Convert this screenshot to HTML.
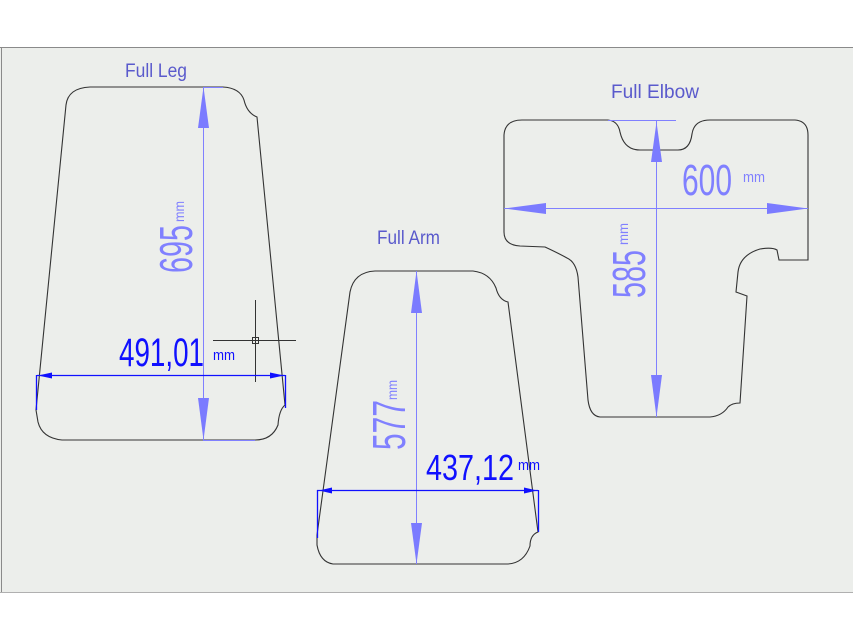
<!DOCTYPE html>
<html><head><meta charset="utf-8"><style>html,body{margin:0;padding:0;background:#fff}svg{display:block}</style></head>
<body>
<svg width="853" height="640" viewBox="0 0 853 640" xmlns="http://www.w3.org/2000/svg" font-family="Liberation Sans, sans-serif">
<rect x="0" y="47" width="853" height="545" fill="#eceeeb"/>
<line x1="0" y1="47.5" x2="853" y2="47.5" stroke="#8a8a8a"/>
<line x1="1.5" y1="47" x2="1.5" y2="592" stroke="#8a8a8a"/>
<line x1="0" y1="592.5" x2="853" y2="592.5" stroke="#b0b0b0"/>

<g fill="none" stroke="#333" stroke-width="1.1">
<path d="M66,105 Q68,88 90,87 L223,87 Q240,88 244,100 Q247,113 257,117 L285,405 Q279,410 278,425 Q272,440 255,440 L62,440 Q42,438 38,422 L36,410 Z"/>
<path d="M350,292 Q354,272 375,271 L473,271 Q490,273 496,288 Q499,300 508,302 L538,532 Q530,535 530,546 Q524,563 508,564 L333,564 Q320,562 317,545 L317,535 Z"/>
<path d="M504,135 Q505,120 522,120 L608,120 Q618,121 620,132 Q624,150 640,150 L678,150 Q690,150 692,134 Q694,120 710,120 L795,120 Q808,121 808,135 L808,260 L779,260 L777,250 Q772,247 760,249 Q740,255 738,272 L736,292 L747,296 L740,403 Q732,403 728,407 Q722,416 710,417 L600,417 Q590,416 588,400 L578,277 Q576,262 567,258 Q558,253 545,247 L520,246 Q504,245 504,232 Z"/>
</g>

<g stroke="#333" stroke-width="1" fill="none">
<line x1="255.5" y1="300" x2="255.5" y2="382"/>
<line x1="213" y1="340.5" x2="296" y2="340.5"/>
<rect x="252.5" y="337.5" width="6" height="6"/>
</g>

<g stroke="#8080ff" stroke-width="1" fill="#7b7bff">
<line x1="203.5" y1="87" x2="203.5" y2="440"/>
<line x1="203" y1="87.5" x2="223" y2="87.5"/>
<line x1="203" y1="440.5" x2="255" y2="440.5"/>
<polygon points="203.5,87 198,128 209,128" stroke="none"/>
<polygon points="203.5,440 198,398 209,398" stroke="none"/>

<line x1="416.5" y1="271" x2="416.5" y2="564"/>
<polygon points="416.5,271 411,313 422,313" stroke="none"/>
<polygon points="416.5,564 411,523 422,523" stroke="none"/>

<line x1="656.5" y1="120" x2="656.5" y2="417"/>
<line x1="608" y1="120.5" x2="676" y2="120.5"/>
<polygon points="656.5,122 651,162 662,162" stroke="none"/>
<polygon points="656.5,417 651,375 662,375" stroke="none"/>
<line x1="504" y1="208.5" x2="808" y2="208.5"/>
<polygon points="504,208.5 546,203 546,214" stroke="none"/>
<polygon points="808,208.5 767,203 767,214" stroke="none"/>
</g>

<g stroke="#1010ff" stroke-width="1.3" fill="#1010ff">
<line x1="37" y1="375.5" x2="285" y2="375.5"/>
<line x1="36.5" y1="375" x2="36.5" y2="410"/>
<line x1="285.5" y1="375" x2="285.5" y2="408"/>
<polygon points="38,375.5 52,372.5 52,378.5" stroke="none"/>
<polygon points="284,375.5 270,372.5 270,378.5" stroke="none"/>
<line x1="317" y1="490.5" x2="538" y2="490.5"/>
<line x1="317.5" y1="490" x2="317.5" y2="538"/>
<line x1="538.5" y1="490" x2="538.5" y2="532"/>
<polygon points="319,490.5 332,487.5 332,493.5" stroke="none"/>
<polygon points="537,490.5 524,487.5 524,493.5" stroke="none"/>
</g>

<g fill="#5a5acc" font-size="19">
<text x="125" y="77" textLength="62" lengthAdjust="spacingAndGlyphs">Full Leg</text>
<text x="377" y="244" textLength="63" lengthAdjust="spacingAndGlyphs">Full Arm</text>
<text x="611" y="98" textLength="88" lengthAdjust="spacingAndGlyphs">Full  Elbow</text>
</g>

<g fill="#8080ff">
<text transform="translate(192,273) rotate(-90)" font-size="46" textLength="48" lengthAdjust="spacingAndGlyphs">695</text>
<text transform="translate(184,222) rotate(-90)" font-size="14" textLength="21" lengthAdjust="spacingAndGlyphs">mm</text>
<text transform="translate(405,450) rotate(-90)" font-size="46" textLength="50" lengthAdjust="spacingAndGlyphs">577</text>
<text transform="translate(397,400) rotate(-90)" font-size="14" textLength="20" lengthAdjust="spacingAndGlyphs">mm</text>
<text transform="translate(645,298) rotate(-90)" font-size="46" textLength="48" lengthAdjust="spacingAndGlyphs">585</text>
<text transform="translate(628,245) rotate(-90)" font-size="14" textLength="22" lengthAdjust="spacingAndGlyphs">mm</text>
<text x="682" y="195" font-size="44" textLength="50" lengthAdjust="spacingAndGlyphs">600</text>
<text x="743" y="182" font-size="15" textLength="22" lengthAdjust="spacingAndGlyphs">mm</text>
</g>
<g fill="#1010ff">
<text x="119" y="366" font-size="40" textLength="85" lengthAdjust="spacingAndGlyphs">491,01</text>
<text x="213" y="360" font-size="15" textLength="22" lengthAdjust="spacingAndGlyphs">mm</text>
<text x="426" y="480" font-size="36" textLength="88" lengthAdjust="spacingAndGlyphs">437,12</text>
<text x="518" y="470" font-size="15" textLength="22" lengthAdjust="spacingAndGlyphs">mm</text>
</g>
</svg>
</body></html>
